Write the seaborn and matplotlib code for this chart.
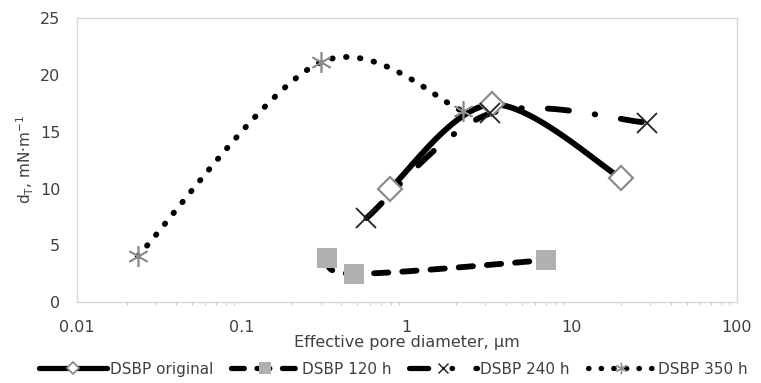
import numpy as np
import pandas as pd
import matplotlib
matplotlib.use("Agg")
import matplotlib.pyplot as plt
import seaborn as sns
from matplotlib.lines import Line2D

# data
orig_x = [0.79, 3.3, 20.0]
orig_y = [10.0, 17.4, 10.9]
h120_x = [0.33, 0.48, 7.0]
h120_y = [3.9, 2.5, 3.7]
h240_x = [0.57, 3.2, 28.5]
h240_y = [7.4, 16.6, 15.8]
h350_x = [0.0234, 0.30, 2.2]
h350_y = [4.05, 21.1, 16.8]
labels = ["DSBP original", "DSBP 120 h", "DSBP 240 h", "DSBP 350 h"]
xticks = [0.01, 0.1, 1, 10, 100]
xtick_labels = ["0.01", "0.1", "1", "10", "100"]
yticks = [0, 5, 10, 15, 20, 25]

sns.set_theme(style="white")
plt.rcParams['font.family'] = ['DejaVu Sans']
TXT = "#404040"


def smooth(xs, ys, n=40):
    """Excel-like smoothed line (Catmull-Rom in log-x space)."""
    lx = np.log10(xs)
    P = np.column_stack([lx, ys])
    P = np.vstack([P[0], P, P[-1]])
    out = []
    for i in range(1, len(P) - 2):
        p0, p1, p2, p3 = P[i - 1], P[i], P[i + 1], P[i + 2]
        t = np.linspace(0, 1, n)[:, None]
        c = 0.5 * ((2 * p1) + (-p0 + p2) * t + (2 * p0 - 5 * p1 + 4 * p2 - p3) * t ** 2
                   + (-p0 + 3 * p1 - 3 * p2 + p3) * t ** 3)
        out.append(c if i == 1 else c[1:])
    c = np.vstack(out)
    return pd.DataFrame({"x": 10 ** c[:, 0], "y": c[:, 1]})


fig = plt.figure(figsize=(7.61, 3.83), dpi=100)
ax = fig.add_axes([0.101, 0.211, 0.867, 0.742])

LW = 4.2
series = [
    dict(x=orig_x, y=orig_y, dashes=None, marker="D", ms=12, mfc="white", mec="#8c8c8c", mew=1.6, lw=LW),
    dict(x=h120_x, y=h120_y, dashes=(2.45, 2.4), marker="s", ms=15, mfc="#b0b0b0", mec="#b0b0b0", mew=0, lw=LW),
    dict(x=h240_x, y=h240_y, dashes=(3.65, 4.45, 0.1, 4.45), marker="x", ms=14, mfc="black", mec="#222222", mew=1.3, lw=LW),
    dict(x=h350_x, y=h350_y, dashes=(0.1, 2.3), marker=(6, 2, 0), ms=15, mfc="#8c8c8c", mec="#8c8c8c", mew=1.2, lw=LW),
]

handles = []
for s, lab in zip(series, labels):
    df = smooth(s["x"], s["y"])
    sns.lineplot(data=df, x="x", y="y", sort=False, estimator=None, ax=ax, color="black", lw=s["lw"])
    line = ax.lines[-1]
    if s["dashes"] is not None:
        line.set_dashes(s["dashes"])
        line.set_dash_capstyle("round")
    pts = pd.DataFrame({"x": s["x"], "y": s["y"]})
    ax.plot(pts["x"], pts["y"], ls="none", marker=s["marker"], ms=s["ms"], mfc=s["mfc"],
            mec=s["mec"], mew=s["mew"], zorder=5)
    h = Line2D([0], [0], color="black", lw=s["lw"] * 0.9, marker=s["marker"], ms=s["ms"] * 0.55,
               mfc=s["mfc"], mec=s["mec"], mew=s["mew"] * 0.8)
    if s["dashes"] is not None:
        h.set_dashes(s["dashes"])
        h.set_dash_capstyle("round")
    handles.append(h)

ax.set_xscale("log")
ax.set_xlim(0.01, 100)
ax.set_ylim(0, 25)
ax.set_xticks(xticks)
ax.set_xticklabels(xtick_labels)
ax.set_yticks(yticks)
ax.tick_params(axis="both", which="major", labelsize=11.5, colors=TXT, length=3, width=0.8, color="#bbbbbb")
ax.tick_params(axis="x", which="major", pad=10)
ax.tick_params(axis="y", which="major", pad=9)
ax.tick_params(axis="x", which="minor", length=2.5, width=0.6, color="#bbbbbb", bottom=True)
for sp in ax.spines.values():
    sp.set_color("#d3d8dc")
    sp.set_linewidth(1.0)
    sp.set_visible(True)
ax.grid(False)

ax.set_xlabel("Effective pore diameter, μm", fontsize=11.5, color=TXT, labelpad=0)
ax.set_ylabel("d$_\\mathregular{T}$, mN·m$^{\\mathregular{-1}}$", fontsize=11, color=TXT, labelpad=3)

leg = fig.legend(handles, labels, loc="center", bbox_to_anchor=(0.517, 0.036), ncol=4, frameon=False,
                 fontsize=11, handlelength=4.4, columnspacing=1.2, handletextpad=0.2)
for t in leg.get_texts():
    t.set_color(TXT)

fig.savefig("out.png", dpi=100)
